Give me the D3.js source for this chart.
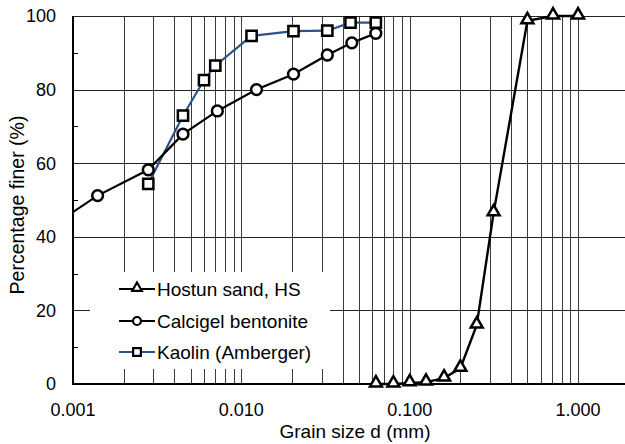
<!DOCTYPE html>
<html>
<head>
<meta charset="utf-8">
<script src="https://cdn.jsdelivr.net/npm/d3@7"></script>
<style>
  body { margin: 0; background: #fff; }
  svg text { font-family: "Liberation Sans", Arial, sans-serif; fill: #000; }
</style>
</head>
<body>
<div id="chart"></div>
<script>
// grain size curves (d in mm, percentage finer)
const sandD = [0.063, 0.08, 0.1, 0.125, 0.16, 0.2, 0.25, 0.315, 0.5, 0.71, 1.0];
const sandP = [0, 0, 0.3, 0.5, 1.6, 4.3, 16, 46.5, 98.7, 100, 100];

// first point lies left of the plot, only the line enters the frame
const bentD = [0.0007, 0.0014, 0.0028, 0.0045, 0.0072, 0.0123, 0.0204, 0.0324, 0.0453, 0.0629];
const bentP = [42, 51.2, 58.2, 67.9, 74.2, 80.0, 84.2, 89.4, 92.7, 95.3];

const kaoD = [0.0028, 0.0045, 0.006, 0.007, 0.0115, 0.0204, 0.0324, 0.0445, 0.0629];
const kaoP = [54.4, 72.9, 82.6, 86.5, 94.6, 95.9, 96.0, 98.2, 98.2];

const xTicks = [0.001, 0.01, 0.1, 1];
const yTicks = [0, 20, 40, 60, 80, 100];
const yMinor = [10, 30, 50, 70, 90];
const seriesNames = ["Hostun sand, HS", "Calcigel bentonite", "Kaolin (Amberger)"];

const width = 625, height = 444;
const pLeft = 73, pTop = 16, pBottom = 384;

const svg = d3.select("#chart").append("svg")
  .attr("width", width)
  .attr("height", height);

// log axis, 1 decade ~ 168 px
const x = d3.scaleLog().domain([0.001, 1.9]).range([pLeft, 625]);
const y = d3.scaleLinear().domain([0, 100]).range([pBottom, pTop]);

svg.append("clipPath").attr("id", "clip")
  .append("rect")
  .attr("x", pLeft).attr("y", 0)
  .attr("width", width - pLeft).attr("height", pBottom + 4);

// vertical grid, 1..9 of every decade up to 1 mm
const vGrid = [];
xTicks.forEach(dec => {
  for (let k = 1; k <= 9; k++) {
    const v = +(dec * k).toPrecision(3);
    if (v <= 1) vGrid.push(v);
  }
});
svg.append("g")
  .selectAll("line")
  .data(vGrid)
  .join("line")
  .attr("x1", d => Math.round(x(d)) + 0.5)
  .attr("x2", d => Math.round(x(d)) + 0.5)
  .attr("y1", pTop)
  .attr("y2", pBottom)
  .attr("stroke", "#3a3a3a")
  .attr("stroke-width", 1);

// horizontal grid
svg.append("g")
  .selectAll("line")
  .data(yTicks.filter(d => d > 0))
  .join("line")
  .attr("x1", pLeft)
  .attr("x2", width)
  .attr("y1", d => Math.round(y(d)) + 0.5)
  .attr("y2", d => Math.round(y(d)) + 0.5)
  .attr("stroke", "#222")
  .attr("stroke-width", 1);

// minor y ticks inside the frame
svg.append("g")
  .selectAll("line")
  .data(yMinor)
  .join("line")
  .attr("x1", pLeft)
  .attr("x2", pLeft + 5)
  .attr("y1", d => Math.round(y(d)) + 0.5)
  .attr("y2", d => Math.round(y(d)) + 0.5)
  .attr("stroke", "#000");

// axes lines
svg.append("line")
  .attr("x1", pLeft).attr("x2", pLeft)
  .attr("y1", pTop).attr("y2", pBottom + 1)
  .attr("stroke", "#000").attr("stroke-width", 2);
svg.append("line")
  .attr("x1", pLeft - 1).attr("x2", width)
  .attr("y1", pBottom).attr("y2", pBottom)
  .attr("stroke", "#000").attr("stroke-width", 2);

// tick labels
svg.append("g")
  .selectAll("text")
  .data(yTicks)
  .join("text")
  .attr("x", 56)
  .attr("y", d => y(d))
  .attr("dy", "0.35em")
  .attr("text-anchor", "end")
  .attr("font-size", 18)
  .text(d => d);

svg.append("g")
  .selectAll("text")
  .data(xTicks)
  .join("text")
  .attr("x", d => x(d))
  .attr("y", 416)
  .attr("text-anchor", "middle")
  .attr("font-size", 18)
  .text(d => d3.format(".3f")(d));

// axis titles
svg.append("text")
  .attr("x", 355)
  .attr("y", 438)
  .attr("text-anchor", "middle")
  .attr("font-size", 19)
  .text("Grain size d (mm)");

svg.append("text")
  .attr("transform", "translate(24,205) rotate(-90)")
  .attr("text-anchor", "middle")
  .attr("font-size", 19.5)
  .text("Percentage finer (%)");

const zip = (ds, ps) => ds.map((d, i) => ({ d: d, p: ps[i] }));
const sand = zip(sandD, sandP);
const bent = zip(bentD, bentP);
const kao = zip(kaoD, kaoP);

const plot = svg.append("g").attr("clip-path", "url(#clip)");

const line = d3.line()
  .x(d => x(d.d))
  .y(d => y(d.p));

plot.append("path").datum(kao)
  .attr("fill", "none").attr("stroke", "#2b5289").attr("stroke-width", 2.2)
  .attr("d", line);
plot.append("path").datum(bent)
  .attr("fill", "none").attr("stroke", "#000").attr("stroke-width", 2.2)
  .attr("d", line);
plot.append("path").datum(sand)
  .attr("fill", "none").attr("stroke", "#000").attr("stroke-width", 2.4)
  .attr("d", line);

const tri = d3.symbol().type(d3.symbolTriangle).size(62);
const sq = d3.symbol().type(d3.symbolSquare).size(105);

// markers
plot.append("g").selectAll("circle")
  .data(bent.filter(d => d.d >= 0.001))
  .join("circle")
  .attr("cx", d => x(d.d))
  .attr("cy", d => y(d.p))
  .attr("r", 5.4)
  .attr("fill", "#fff")
  .attr("stroke", "#000")
  .attr("stroke-width", 2.5);

plot.append("g").selectAll("path")
  .data(kao)
  .join("path")
  .attr("transform", d => `translate(${x(d.d)},${y(d.p)})`)
  .attr("d", sq)
  .attr("fill", "#fff")
  .attr("stroke", "#000")
  .attr("stroke-width", 2.5);

plot.append("g").selectAll("path")
  .data(sand)
  .join("path")
  .attr("transform", d => `translate(${x(d.d)},${y(d.p) - 1})`)
  .attr("d", tri)
  .attr("fill", "#fff")
  .attr("stroke", "#000")
  .attr("stroke-width", 2.5);

// legend
const leg = svg.append("g");
leg.append("rect")
  .attr("x", 90).attr("y", 272)
  .attr("width", 240).attr("height", 97)
  .attr("fill", "#fff");

const rows = [289, 321, 352];
const legColors = ["#000", "#000", "#2b5289"];
const legMarks = [d3.symbol().type(d3.symbolTriangle).size(40), null, d3.symbol().type(d3.symbolSquare).size(60)];

seriesNames.forEach((name, i) => {
  const g = leg.append("g").attr("transform", `translate(0,${rows[i]})`);
  g.append("line")
    .attr("x1", 119).attr("x2", 155)
    .attr("y1", 0).attr("y2", 0)
    .attr("stroke", legColors[i]).attr("stroke-width", 2.2);
  if (legMarks[i]) {
    g.append("path")
      .attr("transform", `translate(137,${i === 0 ? -1 : 0})`)
      .attr("d", legMarks[i])
      .attr("fill", "#fff").attr("stroke", "#000").attr("stroke-width", 2.2);
  } else {
    g.append("circle")
      .attr("cx", 137).attr("cy", 0).attr("r", 4)
      .attr("fill", "#fff").attr("stroke", "#000").attr("stroke-width", 2.2);
  }
  g.append("text")
    .attr("x", 157)
    .attr("y", 0)
    .attr("dy", "0.35em")
    .attr("font-size", 19)
    .text(name);
});
</script>
</body>
</html>
